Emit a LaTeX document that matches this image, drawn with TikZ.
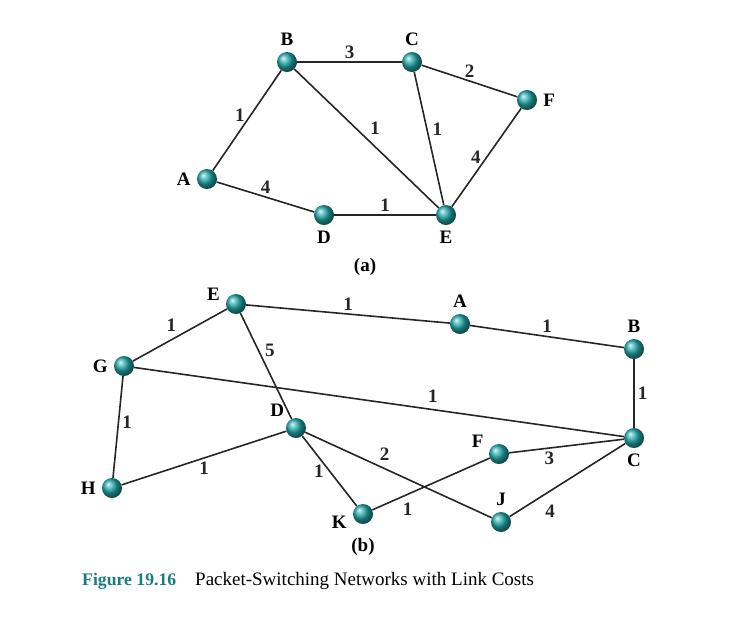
\documentclass[tikz,border=0pt]{standalone}
\usepackage{fontspec}
\setmainfont{Liberation Serif}
\usepackage{tikz}
\usetikzlibrary{positioning}
\definecolor{ballteal}{RGB}{35,170,170}
\definecolor{capteal}{RGB}{26,125,128}

\tikzset{
  router/.style={circle,shading=ball,ball color=ballteal,minimum size=20pt,inner sep=0pt},
  lbl/.style={font=\fontsize{19}{21}\selectfont\bfseries,inner sep=1pt},
  cost/.style={font=\fontsize{19}{21}\selectfont\bfseries,inner sep=3pt},
  link/.style={line width=1.6pt,black!85},
}

\begin{document}
\begin{tikzpicture}[x=1pt,y=-1pt,label distance=5pt]
  \useasboundingbox (0,0) rectangle (735,633);
  % (a)
  \node[router,label={[lbl]above:B}] (aB) at (287,62) {};
  \node[router,label={[lbl]above:C}] (aC) at (412,62) {};
  \node[router,label={[lbl]right:F}] (aF) at (527,100) {};
  \node[router,label={[lbl]left:A}] (aA) at (207,179) {};
  \node[router,label={[lbl]below:D}] (aD) at (324,215) {};
  \node[router,label={[lbl]below:E}] (aE) at (446,215) {};
  \path[link]
    (aA) edge node[cost,pos=.55,left,inner sep=5pt] {1} (aB)
    (aB) edge node[cost,above] {3} (aC)
    (aC) edge node[cost,above] {2} (aF)
    (aB) edge node[cost,above right] {1} (aE)
    (aC) edge node[cost,pos=.43,right,inner sep=5pt] {1} (aE)
    (aF) edge node[cost,left,inner sep=5pt] {4} (aE)
    (aA) edge node[cost,above] {4} (aD)
    (aD) edge node[cost,above] {1} (aE);
  \node[lbl] (capa) at (365,267) {(a)};
  % (b)
  \node[router,label={[lbl]170:E}] (bE) at (236,304) {};
  \node[router,label={[lbl]above:A}] (bA) at (460,324) {};
  \node[router,label={[lbl]above:B}] (bB) at (634,349) {};
  \node[router,label={[lbl]left:G}] (bG) at (124,366) {};
  \node[router,label={[lbl]above left:D}] (bD) at (296,428) {};
  \node[router,label={[lbl]below:C}] (bC) at (634,438) {};
  \node[router,label={[lbl]160:F}] (bF) at (499,454) {};
  \node[router,label={[lbl]left:H}] (bH) at (112,488) {};
  \node[router,label={[lbl,yshift=-8pt]left:K}] (bK) at (363,514) {};
  \node[router,label={[lbl]above:J}] (bJ) at (501,522) {};
  \path[link]
    (bE) edge node[cost,above] {1} (bA)
    (bA) edge node[cost,above] {1} (bB)
    (bG) edge node[cost,above left] {1} (bE)
    (bE) edge node[cost,pos=.35,right,inner sep=6pt] {5} (bD)
    (bG) edge node[cost,pos=.61,above,inner sep=6pt] {1} (bC)
    (bB) edge node[cost,right] {1} (bC)
    (bG) edge node[cost,pos=.45,right] {1} (bH)
    (bH) edge node[cost,below] {1} (bD)
    (bD) edge node[cost,left,inner sep=5pt] {1} (bK)
    (bD) edge node[cost,pos=.38,above right] {2} (bJ)
    (bF) edge node[cost,pos=.35,below] {3} (bC)
    (bK) edge node[cost,pos=.3,below,inner sep=8pt] {1} (bF)
    (bJ) edge node[cost,pos=.25,below right,inner sep=6pt] {4} (bC);
  \node[lbl] (capb) at (363,547) {(b)};
  % caption
  \node[anchor=base west,inner sep=0pt,font=\fontsize{17.7}{20}\selectfont\bfseries,text=capteal]
    (fig) at (82,585) {Figure 19.16};
  \node[anchor=base west,inner sep=0pt,font=\fontsize{19}{21}\selectfont]
    (title) at (195,585) {Packet-Switching Networks with Link Costs};
\end{tikzpicture}
\end{document}
